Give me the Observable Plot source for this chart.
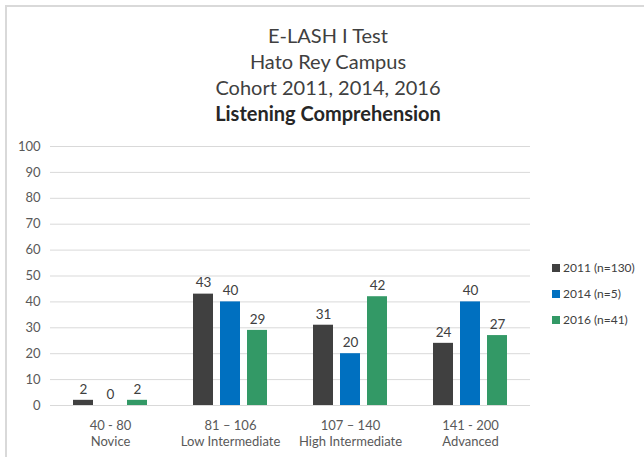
<!DOCTYPE html>
<html><head><meta charset="utf-8">
<script src="https://cdn.jsdelivr.net/npm/d3@7"></script>
<script src="https://cdn.jsdelivr.net/npm/@observablehq/plot@0.6"></script>
<style>
body{margin:0;background:#fff;font-family:Lato,"Open Sans",sans-serif;}
#wrap{position:relative;width:644px;height:457px;overflow:hidden;background:#fff;}
#frame{position:absolute;left:5px;top:5px;width:700px;height:500px;border-top:2px solid #d9d9d9;border-left:2px solid #d9d9d9;}
#title{position:absolute;left:6px;width:644px;top:22px;text-align:center;color:#404040;font-size:20px;line-height:26px;}
#title b{font-weight:bold;color:#262626}
#chart{position:absolute;left:0;top:130px;}
#legend{position:absolute;left:552px;top:260px;font-size:12px;color:#404040;}
#legend div{line-height:16px;display:flex;align-items:center;height:16px;margin-bottom:10px;}
#legend span.sw{display:inline-block;width:8px;height:8px;margin-right:3px;}
</style></head>
<body>
<div id="wrap">
<div id="frame"></div>
<div id="title"></div>
<div id="chart"></div>
<div id="legend"></div>
</div>
<script>
const titleLines = ["E-LASH I Test", "Hato Rey Campus", "Cohort 2011, 2014, 2016"];
const titleBold = "Listening Comprehension";
const categories = ["40 - 80\nNovice", "81 – 106\nLow Intermediate", "107 – 140\nHigh Intermediate", "141 - 200\nAdvanced"];
const series = ["2011 (n=130)", "2014 (n=5)", "2016 (n=41)"];
const values2011 = [2, 43, 31, 24];
const values2014 = [0, 40, 20, 40];
const values2016 = [2, 29, 42, 27];
const colors = ["#404040", "#0070c0", "#339966"];
const yTicks = [0, 10, 20, 30, 40, 50, 60, 70, 80, 90, 100];

const seriesValues = [values2011, values2014, values2016];
const data = [];
categories.forEach((c, i) => series.forEach((s, j) => data.push({cat: c, series: s, value: seriesValues[j][i]})));

const t = document.getElementById("title");
titleLines.forEach(l => { const d = document.createElement("div"); d.textContent = l; t.appendChild(d); });
const b = document.createElement("div"); const bb = document.createElement("b"); bb.textContent = titleBold; b.appendChild(bb); t.appendChild(b);

const chart = Plot.plot({
  width: 644, height: 327,
  marginTop: 16, marginBottom: 52, marginLeft: 50, marginRight: 114,
  style: {fontFamily: "Lato, 'Open Sans', sans-serif", background: "transparent"},
  fx: {domain: categories, padding: 0, label: null, axis: null},
  x: {domain: series, paddingInner: 0.26, paddingOuter: 0.85, axis: null},
  y: {domain: [0, 100], label: null, axis: null},
  color: {domain: series, range: colors},
  marks: [
    Plot.gridY(yTicks, {stroke: "#d9d9d9", strokeOpacity: 1, strokeWidth: 1}),
    Plot.axisY(yTicks, {tickSize: 0, tickPadding: 10, fontSize: 13, fill: "#595959", label: null}),
    Plot.barY(data, {fx: "cat", x: "series", y: "value", fill: "series"}),
    Plot.text(data, {fx: "cat", x: "series", y: "value", text: d => String(d.value), dy: -11, fontSize: 13.5, fill: "#404040"}),
    Plot.axisFx({anchor: "bottom", tickSize: 0, tickPadding: 12, fontSize: 13, fill: "#595959", lineHeight: 1.3, label: null})
  ]
});
document.getElementById("chart").appendChild(chart);

const lg = document.getElementById("legend");
series.forEach((s, j) => {
  const d = document.createElement("div");
  const sw = document.createElement("span"); sw.className = "sw"; sw.style.background = colors[j];
  d.appendChild(sw); d.appendChild(document.createTextNode(s)); lg.appendChild(d);
});
</script>
</body></html>
